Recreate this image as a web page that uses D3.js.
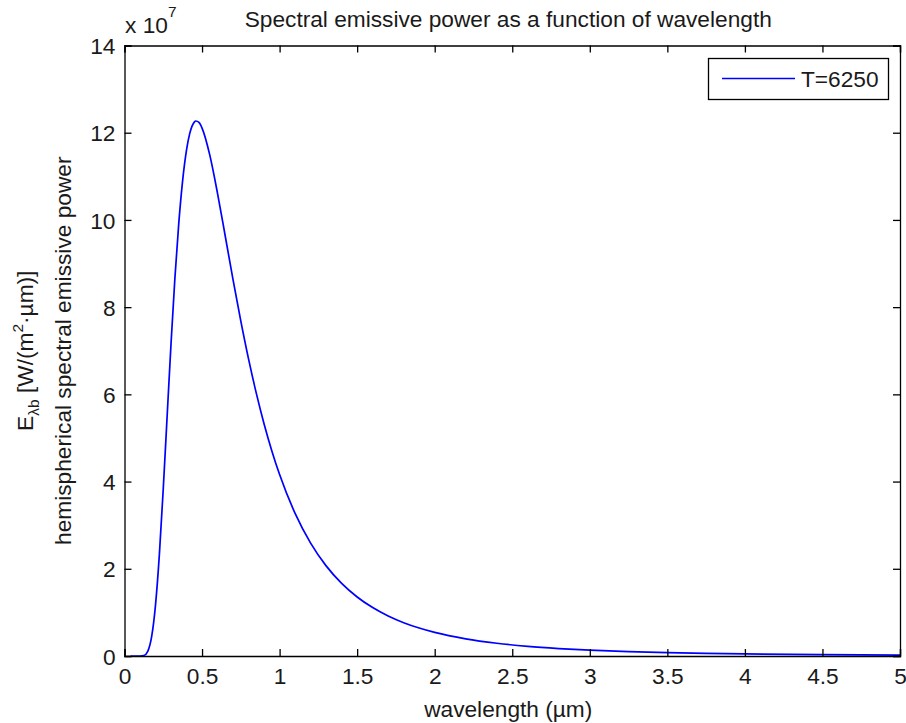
<!DOCTYPE html>
<html>
<head>
<meta charset="utf-8">
<script src="https://cdn.jsdelivr.net/npm/d3@7"></script>
<style>
  html, body { margin: 0; padding: 0; background: #fff; }
  svg { display: block; }
  text { font-family: "Liberation Sans", Arial, Helvetica, sans-serif; fill: #1a1a1a; }
</style>
</head>
<body>
<svg id="chart" width="906" height="723"></svg>
<script>
// ---- data (y in units of 1e7 W/(m^2·µm)) ----
const wavelength = [0.04, 0.10, 0.125, 0.15, 0.175, 0.20, 0.225, 0.25, 0.275, 0.30, 0.325, 0.35, 0.375,
  0.40, 0.42, 0.45, 0.46, 0.48, 0.50, 0.55, 0.60, 0.65, 0.70, 0.75, 0.80, 0.85, 0.90, 0.95,
  1.0, 1.1, 1.2, 1.3, 1.4, 1.5, 1.6, 1.7, 1.8, 1.9, 2.0, 2.2, 2.4, 2.6, 2.8, 3.0, 3.25, 3.5,
  3.75, 4.0, 4.5, 5.0];
const emissivePower = [0.0, 0.0004, 0.012, 0.107, 0.442, 1.173, 2.337, 3.840, 5.508, 7.163, 8.667, 9.927, 10.909,
  11.607, 11.973, 12.243, 12.269, 12.236, 12.107, 11.486, 10.605, 9.620, 8.627, 7.680, 6.808, 6.022, 5.321, 4.703,
  4.160, 3.269, 2.588, 2.067, 1.665, 1.354, 1.110, 0.917, 0.764, 0.641, 0.541, 0.393, 0.292, 0.221, 0.171, 0.133, 0.100, 0.077,
  0.060, 0.047, 0.030, 0.021];
const xTicks = [0, 0.5, 1, 1.5, 2, 2.5, 3, 3.5, 4, 4.5, 5];
const yTicks = [0, 2, 4, 6, 8, 10, 12, 14];
const seriesName = "T=6250";
const titleText = "Spectral emissive power as a function of wavelength";
const xLabelText = "wavelength (\u00b5m)";

// ---- layout ----
const svg = d3.select("#chart");
const mLeft = 124.5, mRight = 900, mTop = 45.5, mBottom = 656;
const fs = 22.7;

const x = d3.scaleLinear().domain([0, 5]).range([mLeft, mRight]);
const y = d3.scaleLinear().domain([0, 14]).range([mBottom, mTop]);

// curve
const pts = wavelength.map((w, i) => [w, emissivePower[i]]);
svg.append("path")
  .datum(pts)
  .attr("fill", "none")
  .attr("stroke", "#0000ff")
  .attr("stroke-width", 1.7)
  .attr("d", d3.line().x(d => x(d[0])).y(d => y(d[1])).curve(d3.curveMonotoneX));

// axes (box with inward ticks on all sides)
const tickLen = 7;
const axB = svg.append("g").attr("transform", `translate(0,${mBottom})`)
  .call(d3.axisBottom(x).tickValues(xTicks).tickSize(-tickLen).tickPadding(12).tickFormat(d3.format("")));
const axT = svg.append("g").attr("transform", `translate(0,${mTop})`)
  .call(d3.axisTop(x).tickValues(xTicks).tickSize(-tickLen).tickFormat(""));
const axL = svg.append("g").attr("transform", `translate(${mLeft},0)`)
  .call(d3.axisLeft(y).tickValues(yTicks).tickSize(-tickLen).tickPadding(9));
const axR = svg.append("g").attr("transform", `translate(${mRight},0)`)
  .call(d3.axisRight(y).tickValues(yTicks).tickSize(-tickLen).tickFormat(""));

[axB, axT, axL, axR].forEach(g => {
  g.select(".domain").attr("stroke", "#000").attr("stroke-width", 1.3);
  g.selectAll(".tick line").attr("stroke", "#000").attr("stroke-width", 1.3);
  g.selectAll(".tick text").attr("font-size", fs).attr("fill", "#1a1a1a")
    .style("font-family", '"Liberation Sans", Arial, sans-serif');
});
axL.selectAll(".tick text").attr("dy", "0.36em");
axB.selectAll(".tick text").attr("dy", "0.71em");

// title
svg.append("text")
  .attr("x", (mLeft + mRight) / 2 - 4).attr("y", 27)
  .attr("text-anchor", "middle").attr("font-size", fs)
  .text(titleText);

// exponent label
const ex = svg.append("text").attr("x", 125).attr("y", 33).attr("font-size", fs);
ex.append("tspan").text("x 10");
ex.append("tspan").attr("font-size", 15.5).attr("dy", -16).text("7");

// x label
svg.append("text")
  .attr("x", (mLeft + mRight) / 2 - 4).attr("y", 717)
  .attr("text-anchor", "middle").attr("font-size", fs)
  .text(xLabelText);

// y label (two lines)
const cy = (mTop + mBottom) / 2;
const yl1 = svg.append("text")
  .attr("transform", `translate(33,${cy}) rotate(-90)`)
  .attr("text-anchor", "middle").attr("font-size", fs);
yl1.append("tspan").text("E");
yl1.append("tspan").attr("font-size", 15.5).attr("dy", 6).text("\u03bbb");
yl1.append("tspan").attr("dy", -6).text(" [W/(m");
yl1.append("tspan").attr("font-size", 15.5).attr("dy", -10).text("2");
yl1.append("tspan").attr("dy", 10).text("\u00b7\u00b5m)]");

svg.append("text")
  .attr("transform", `translate(71,${cy}) rotate(-90)`)
  .attr("text-anchor", "middle").attr("font-size", fs)
  .text("hemispherical spectral emissive power");

// legend
const lg = svg.append("g");
lg.append("rect").attr("x", 708.5).attr("y", 58.5).attr("width", 180).attr("height", 41)
  .attr("fill", "#fff").attr("stroke", "#000").attr("stroke-width", 1.3);
lg.append("line").attr("x1", 722).attr("x2", 795).attr("y1", 78.5).attr("y2", 78.5)
  .attr("stroke", "#0000ff").attr("stroke-width", 1.7);
lg.append("text").attr("x", 801).attr("y", 87).attr("font-size", fs).text(seriesName);
</script>
</body>
</html>
